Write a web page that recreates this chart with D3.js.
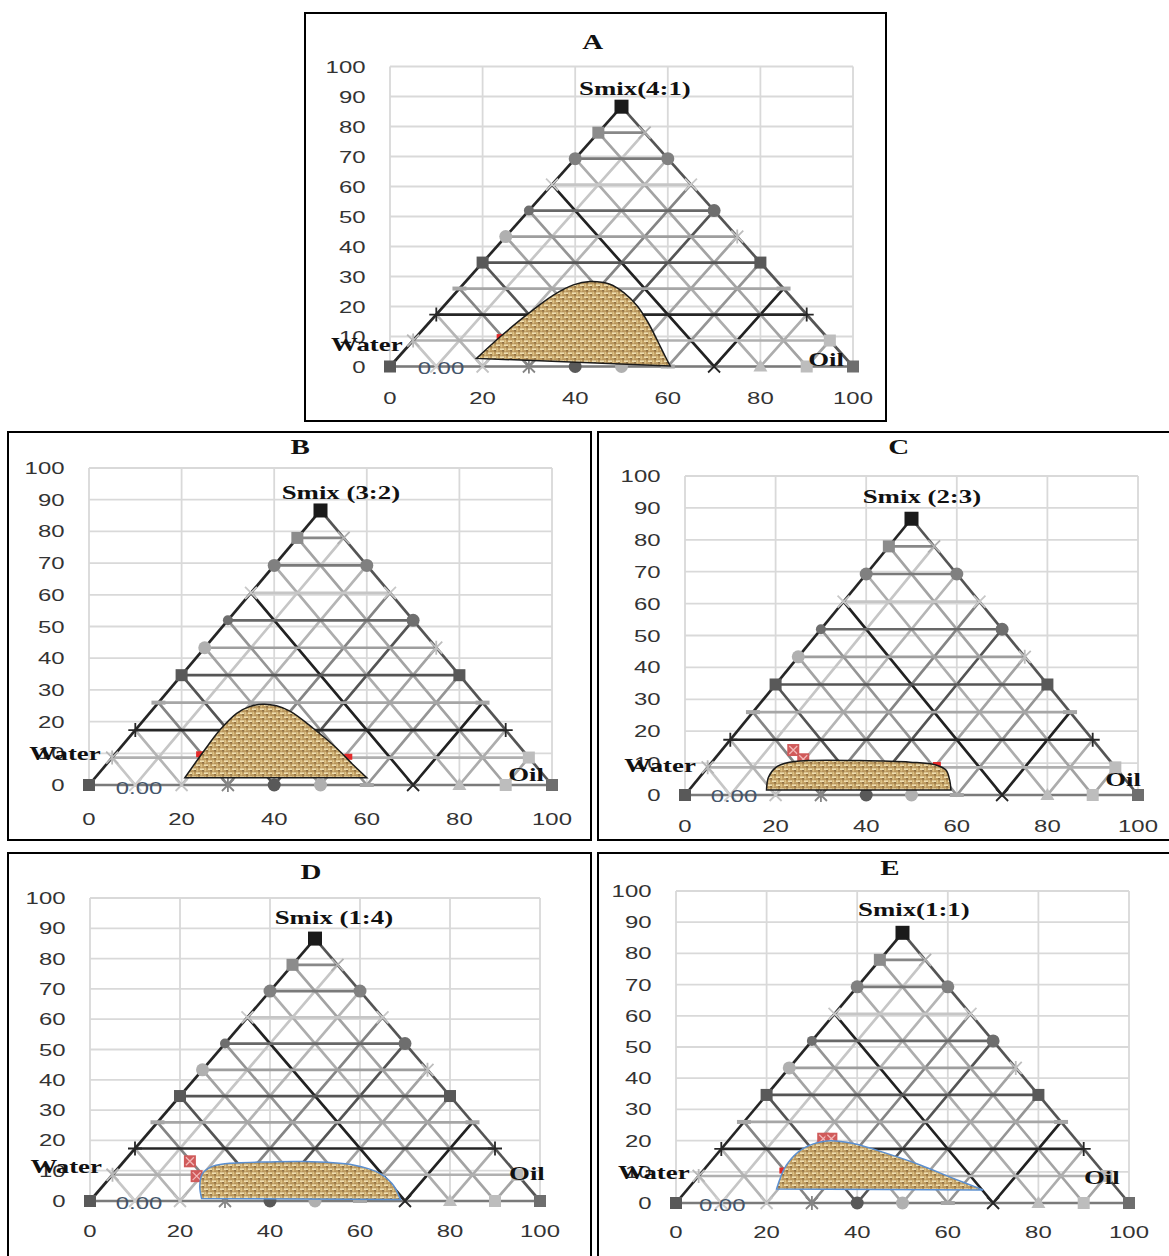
<!DOCTYPE html>
<html><head><meta charset="utf-8">
<script src="https://cdn.jsdelivr.net/npm/d3@7"></script>
<style>body{margin:0;background:#fff}</style>
</head><body>
<svg id="chart" width="1169" height="1256"></svg>
<script>
// ---------------- DATA ----------------
const panelNames = ["A", "B", "C", "D", "E"];
const smixLabels = ["Smix(4:1)", "Smix (3:2)", "Smix (2:3)", "Smix (1:4)", "Smix(1:1)"];
const waterLabel = "Water";
const oilLabel = "Oil";
const originLabel = "0.00";
const yTickValues = [0, 10, 20, 30, 40, 50, 60, 70, 80, 90, 100];
const xTickValues = [0, 20, 40, 60, 80, 100];
const gridLevels = [1, 2, 3, 4, 5, 6, 7, 8, 9];   // 10% steps of the ternary grid

// microemulsion regions (x, y on the chart axes)
const regionA = [[18.7,2.7],[23.8,9.9],[29.5,17.2],[35.3,23.8],[39.6,27.2],[43.2,28.3],[47.5,27.4],[50.5,24.6],[53.5,20.0],[55.8,14.5],[57.8,8.5],[59.4,3.5],[60.5,0.2]];
const regionB = [[20.7,2.3],[24.7,10.5],[28.3,17.4],[31.9,22.6],[34.8,24.8],[37.6,25.5],[40.5,25.0],[43.5,23.2],[48.4,17.9],[53.5,11.6],[57.1,6.3],[60.0,2.3]];
const regionC = [[18.0,1.6],[18.4,5.5],[20.0,8.6],[22.8,10.2],[27.0,10.8],[38.6,10.8],[49.7,10.3],[55.2,9.5],[57.6,7.8],[58.4,4.8],[58.7,1.6]];
const regionD = [[24.8,0.8],[24.4,5.0],[25.0,9.0],[26.8,11.2],[30.0,12.3],[40.0,12.9],[47.4,13.0],[54.0,12.6],[58.5,11.9],[62.0,10.6],[64.4,9.1],[66.3,7.0],[67.6,4.8],[68.5,2.2],[69.0,0.5]];
const regionE = [[22.2,4.5],[24.4,12.2],[28.1,17.5],[33.3,19.9],[39.1,19.1],[46.5,15.9],[53.9,12.2],[61.2,7.9],[67.8,4.2]];
const regions = [regionA, regionB, regionC, regionD, regionE];

// experimental points peeking out at the region border
const pointsA = [[23.9,9.8]];
const pointsB = [[24.0,9.7],[56.0,8.9]];
const pointsC = [[23.9,14.1],[26.1,11.2],[55.6,9.4]];
const pointsD = [[22.2,13.1],[23.7,8.2]];
const pointsE = [[32.5,20.6],[34.3,20.6],[23.7,10.4]];
const pointSets = [pointsA, pointsB, pointsC, pointsD, pointsE];

// ---------------- STYLE / LAYOUT ----------------
const hLineColors = ["#b0b0b0","#262626","#a6a6a6","#555555","#9e9e9e","#686868","#c6c6c6","#7a7a7a","#888888"];
const vLineColors = ["#c6c6c6","#b5b5b5","#858585","#555555","#a3a3a3","#959595","#222222","#adadad","#a3a3a3"];
const leftMarkers = [["square","#595959"],["star","#b8b8b8"],["plus","#262626"],["dash","#a6a6a6"],["square","#595959"],["circle","#b0b0b0"],["circleS","#6e6e6e"],["x","#c8c8c8"],["circle","#808080"],["square","#8c8c8c"],["squareL","#1a1a1a"]];
const rightMarkers = [null,["square","#bdbdbd"],["plus","#262626"],["dash","#a6a6a6"],["square","#595959"],["star","#bdbdbd"],["circle","#6e6e6e"],["x","#c8c8c8"],["circle","#808080"],["x","#b0b0b0"]];
const bottomMarkers = [null,["x","#cfcfcf"],["x","#c4c4c4"],["star","#858585"],["circle","#595959"],["circle","#b0b0b0"],["dash","#a6a6a6"],["x","#262626"],["triangle","#bdbdbd"],["square","#bdbdbd"],["square","#6e6e6e"]];

const layouts = [
  {frame:[305,13,886,421], left:390, right:853, top:66.5, bottom:366.5, xlab:31.5,
   title:[43.8,108.2], smix:[52.9,92.8], water:[-5.0,7.2], oil:[94.2,2.2], orig:[11.0,-0.5], outline:"#1a1a1a"},
  {frame:[8,432,591,840], left:89, right:552, top:468, bottom:785, xlab:34,
   title:[45.6,106.6], smix:[54.4,92.4], water:[-5.2,9.8], oil:[94.4,3.2], orig:[10.8,-0.9], outline:"#1a1a1a"},
  {frame:[598,432,1175,840], left:685, right:1138, top:476, bottom:795, xlab:31,
   title:[47.2,109.1], smix:[52.3,93.4], water:[-5.5,9.1], oil:[96.7,4.7], orig:[10.8,-0.3], outline:"#1a1a1a"},
  {frame:[8,853,591,1262], left:90, right:540, top:898, bottom:1201, xlab:30,
   title:[49.1,108.6], smix:[54.2,93.7], water:[-5.3,11.2], oil:[97.1,9.2], orig:[10.9,-0.7], outline:"#5b8fd0"},
  {frame:[598,853,1175,1262], left:676, right:1129, top:891, bottom:1203, xlab:29,
   title:[47.2,107.4], smix:[52.5,93.9], water:[-4.9,9.9], oil:[94.0,8.3], orig:[10.2,-0.6], outline:"#5b8fd0"}
];

const SX = 1.45;             // horizontal stretch of the original picture's text
const H = Math.sqrt(3) / 2;  // height factor of the equilateral triangle
const LW = 2.7;              // grid line width

const svg = d3.select("#chart");
svg.append("rect").attr("width",1169).attr("height",1256).attr("fill","#fff");

// burlap texture
const defs = svg.append("defs");
const pat = defs.append("pattern").attr("id","burlap").attr("width",8).attr("height",8)
  .attr("patternUnits","userSpaceOnUse");
pat.append("rect").attr("width",8).attr("height",8).attr("fill","#a9834c");
[[0,0.3,4,1.8,"#f0dfb0"],[4,4.3,4,1.8,"#f0dfb0"],[4.3,0,1.8,3.6,"#dcc083"],[0.3,4,1.8,3.6,"#dcc083"],
 [0,2.4,3.5,1.2,"#c9a86c"],[4,6.4,3.5,1.2,"#c9a86c"],[6.3,0.5,1.4,3,"#cfae70"],[2.3,4.5,1.4,3,"#cfae70"],
 [2.4,2.2,1.2,1.2,"#5e4120"],[6.4,6.2,1.2,1.2,"#5e4120"]]
 .forEach(r => pat.append("rect").attr("x",r[0]).attr("y",r[1]).attr("width",r[2]).attr("height",r[3]).attr("fill",r[4]));

function stretchedText(g, x, y, str, opts) {
  return g.append("g").attr("transform", `translate(${x},${y}) scale(${SX},1)`)
    .append("text").text(str)
    .attr("text-anchor", opts.anchor || "middle")
    .attr("dominant-baseline", "central")
    .attr("font-family", opts.family)
    .attr("font-size", opts.size)
    .attr("font-weight", opts.weight || "normal")
    .attr("fill", opts.fill || "#000");
}

function marker(g, type, cx, cy, color) {
  const s = 12;
  switch (type) {
    case "square": g.append("rect").attr("x",cx-s/2).attr("y",cy-s/2).attr("width",s).attr("height",s).attr("fill",color); break;
    case "squareL": g.append("rect").attr("x",cx-7).attr("y",cy-7).attr("width",14).attr("height",14).attr("fill",color); break;
    case "circle": g.append("circle").attr("cx",cx).attr("cy",cy).attr("r",6.5).attr("fill",color); break;
    case "circleS": g.append("circle").attr("cx",cx).attr("cy",cy).attr("r",5).attr("fill",color); break;
    case "dash": g.append("rect").attr("x",cx-7).attr("y",cy-2).attr("width",14).attr("height",4).attr("fill",color); break;
    case "triangle": g.append("path").attr("d",`M${cx-7},${cy+5}L${cx},${cy-7}L${cx+7},${cy+5}Z`).attr("fill",color); break;
    case "plus":
      g.append("path").attr("d",`M${cx-7},${cy}H${cx+7}M${cx},${cy-7}V${cy+7}`).attr("stroke",color).attr("stroke-width",1.8); break;
    case "x":
      g.append("path").attr("d",`M${cx-6},${cy-6}L${cx+6},${cy+6}M${cx-6},${cy+6}L${cx+6},${cy-6}`).attr("stroke",color).attr("stroke-width",1.8); break;
    case "star":
      g.append("path").attr("d",`M${cx-6},${cy-6}L${cx+6},${cy+6}M${cx-6},${cy+6}L${cx+6},${cy-6}M${cx},${cy-7}V${cy+7}`).attr("stroke",color).attr("stroke-width",1.8); break;
  }
}

panelNames.forEach((name, i) => {
  const L = layouts[i];
  const g = svg.append("g");
  const x = d3.scaleLinear().domain([0,100]).range([L.left, L.right]);
  const y = d3.scaleLinear().domain([0,100]).range([L.bottom, L.top]);
  const line = d3.line().x(d => x(d[0])).y(d => y(d[1]));

  // frame
  g.append("rect").attr("x",L.frame[0]).attr("y",L.frame[1])
    .attr("width",L.frame[2]-L.frame[0]).attr("height",L.frame[3]-L.frame[1])
    .attr("fill","none").attr("stroke","#000").attr("stroke-width",2);

  // gridlines
  yTickValues.forEach(v => g.append("line").attr("x1",x(0)).attr("x2",x(100)).attr("y1",y(v)).attr("y2",y(v))
    .attr("stroke","#d9d9d9").attr("stroke-width",1.8));
  xTickValues.forEach(v => g.append("line").attr("y1",y(0)).attr("y2",y(100)).attr("x1",x(v)).attr("x2",x(v))
    .attr("stroke","#d9d9d9").attr("stroke-width",1.8));

  // tick labels
  const tickFont = {family:"'Liberation Sans', Arial, sans-serif", size:"16.5px", fill:"#333"};
  yTickValues.forEach(v => stretchedText(g, x(0)-24.5, y(v), String(v), Object.assign({anchor:"end"}, tickFont)));
  xTickValues.forEach(v => stretchedText(g, x(v), y(0)+L.xlab, String(v), Object.assign({anchor:"middle"}, tickFont)));

  // ternary grid: lines parallel to the side edges, through each bottom point
  gridLevels.forEach((k, j) => {
    const b = k * 10;
    g.append("path").attr("d", line([[b/2, b*H],[b,0],[(100+b)/2,(100-b)*H]]))
      .attr("fill","none").attr("stroke",vLineColors[j]).attr("stroke-width",LW);
  });
  // horizontal lines
  gridLevels.forEach((k, j) => {
    const h = k * 10 * H;
    g.append("path").attr("d", line([[k*5, h],[100-k*5, h]]))
      .attr("fill","none").attr("stroke",hLineColors[j]).attr("stroke-width",LW);
  });
  // triangle edges
  g.append("path").attr("d", line([[0,0],[100,0]])).attr("stroke","#7a7a7a").attr("stroke-width",LW);
  g.append("path").attr("d", line([[100,0],[50,100*H]])).attr("stroke","#555555").attr("stroke-width",LW);
  g.append("path").attr("d", line([[0,0],[50,100*H]])).attr("stroke","#262626").attr("stroke-width",LW);

  // markers
  [0,1,2,3,4,5,6,7,8,9,10].forEach(k => {
    const b = bottomMarkers[k];
    if (b) marker(g, b[0], x(k*10), y(0), b[1]);
  });
  [1,2,3,4,5,6,7,8,9].forEach(k => {
    const r = rightMarkers[k];
    marker(g, r[0], x(100-k*5), y(k*10*H), r[1]);
  });
  [0,1,2,3,4,5,6,7,8,9,10].forEach(k => {
    const m = leftMarkers[k];
    marker(g, m[0], x(k*5), y(k*10*H), m[1]);
  });

  // data points (red) under the region
  pointSets[i].forEach(p => {
    const px = x(p[0]), py = y(p[1]);
    if ((i >= 2 && p[1] > 10.5) || i === 3) {
      g.append("rect").attr("x",px-6).attr("y",py-6).attr("width",12).attr("height",12).attr("fill","#d05a5a");
      g.append("path").attr("d",`M${px-4},${py-4}L${px+4},${py+4}M${px-4},${py+4}L${px+4},${py-4}`)
        .attr("stroke","#f2b8b8").attr("stroke-width",1.3);
    } else {
      g.append("rect").attr("x",px-4).attr("y",py-3).attr("width",8).attr("height",6).attr("fill","#e52a2a");
    }
  });

  // microemulsion region
  const area = d3.line().x(d => x(d[0])).y(d => y(d[1])).curve(d3.curveCatmullRom.alpha(0.5));
  g.append("path").attr("d", area(regions[i]) + "Z")
    .attr("fill","url(#burlap)").attr("stroke",L.outline).attr("stroke-width",1.5);

  // labels
  const boldSerif = {family:"'Liberation Serif', 'Times New Roman', serif", size:"18.5px", weight:"bold", fill:"#111"};
  stretchedText(g, x(L.title[0]), y(L.title[1]), name, Object.assign({}, boldSerif, {size:"20px", weight:"bold"}));
  stretchedText(g, x(L.smix[0]), y(L.smix[1]), smixLabels[i], boldSerif);
  stretchedText(g, x(L.water[0]), y(L.water[1]), waterLabel, boldSerif);
  stretchedText(g, x(L.oil[0]), y(L.oil[1]), oilLabel, boldSerif);
  stretchedText(g, x(L.orig[0]), y(L.orig[1]), originLabel,
    {family:"'Liberation Sans', Arial, sans-serif", size:"16.5px", fill:"#44546a"});
});
</script>
</body></html>
